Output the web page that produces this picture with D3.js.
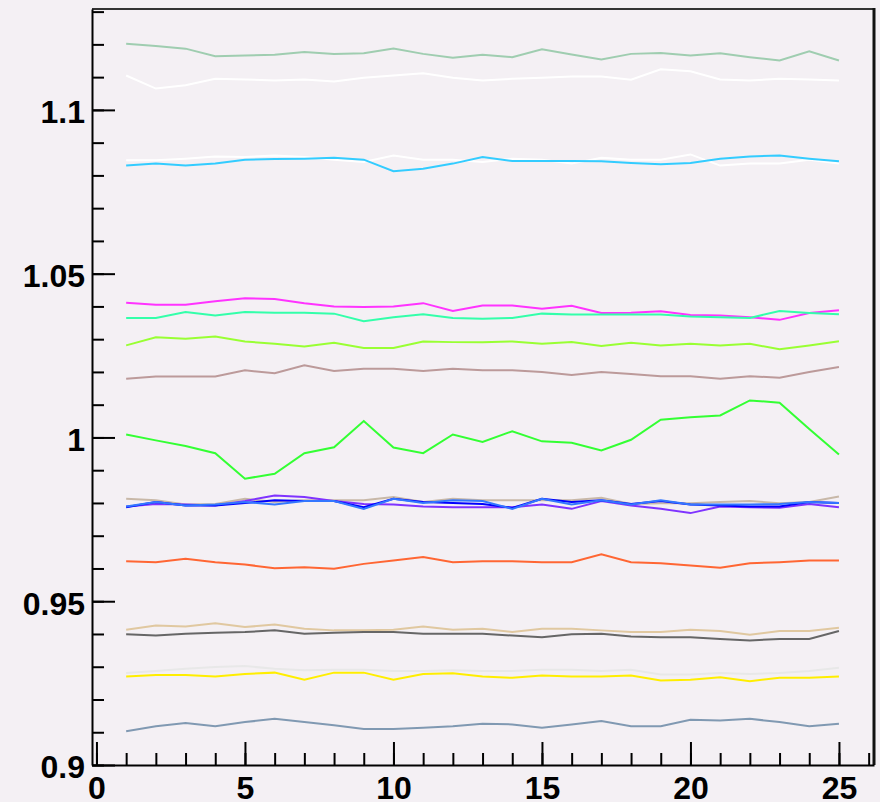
<!DOCTYPE html>
<html>
<head>
<meta charset="utf-8">
<script src="https://cdn.jsdelivr.net/npm/d3@7"></script>
<style>
  html, body { margin: 0; padding: 0; background: #f4f0f4; }
  svg { display: block; }
  .tick text { font-family: "Liberation Sans", Arial, sans-serif; font-weight: bold; font-size: 32px; fill: #000; }
</style>
</head>
<body>
<svg id="chart" width="880" height="802"></svg>
<script>
// Run index 1..25
const runs = d3.range(1, 26);

// Tick labels
const yTickValues = [0.9, 0.95, 1, 1.05, 1.1];
const yTickLabels = ["0.9", "0.95", "1", "1.05", "1.1"];
const xTickValues = [0, 5, 10, 15, 20, 25];
const xTickLabels = ["0", "5", "10", "15", "20", "25"];

// One array of ratios per channel
const sTopGreen = [1.1202,1.1195,1.1187,1.1164,1.1166,1.1168,1.1177,1.1171,1.1173,1.1187,1.1171,1.1159,1.1168,1.1161,1.1185,1.1169,1.1154,1.1171,1.1174,1.1166,1.1173,1.1161,1.1151,1.1179,1.1151];
const sWhiteA   = [1.1105,1.1065,1.1075,1.1095,1.1093,1.1090,1.1093,1.1087,1.1098,1.1105,1.1112,1.1098,1.1090,1.1095,1.1098,1.1102,1.1102,1.1092,1.1124,1.1118,1.1093,1.1090,1.1095,1.1093,1.1090];
const sWhiteB   = [1.0846,1.0846,1.0851,1.0858,1.0856,1.0861,1.0856,1.0848,1.0841,1.0861,1.0848,1.0848,1.0841,1.0851,1.0848,1.0836,1.0854,1.0848,1.0848,1.0864,1.0830,1.0836,1.0836,1.0848,1.0836];
const sCyan     = [1.0830,1.0836,1.0830,1.0836,1.0848,1.0850,1.0851,1.0854,1.0848,1.0813,1.0820,1.0836,1.0856,1.0844,1.0844,1.0844,1.0843,1.0838,1.0834,1.0838,1.0851,1.0858,1.0861,1.0851,1.0843];
const sMagenta  = [1.0411,1.0405,1.0405,1.0416,1.0425,1.0423,1.0410,1.0400,1.0398,1.0400,1.0410,1.0386,1.0403,1.0403,1.0393,1.0402,1.0380,1.0381,1.0385,1.0374,1.0372,1.0367,1.0359,1.0380,1.0388];
const sAqua     = [1.0365,1.0365,1.0383,1.0372,1.0383,1.0381,1.0381,1.0378,1.0355,1.0367,1.0376,1.0365,1.0362,1.0365,1.0378,1.0375,1.0375,1.0375,1.0375,1.0369,1.0367,1.0365,1.0386,1.0380,1.0376];
const sLime     = [1.0281,1.0306,1.0301,1.0308,1.0293,1.0286,1.0278,1.0289,1.0273,1.0273,1.0293,1.0291,1.0291,1.0293,1.0286,1.0291,1.0279,1.0289,1.0281,1.0286,1.0281,1.0286,1.0269,1.0281,1.0294];
const sRose     = [1.0179,1.0186,1.0186,1.0186,1.0205,1.0196,1.0220,1.0203,1.0210,1.0210,1.0203,1.0210,1.0205,1.0205,1.0200,1.0191,1.0200,1.0194,1.0187,1.0187,1.0179,1.0187,1.0182,1.0200,1.0215];
const sGreen    = [1.0009,0.9991,0.9974,0.9952,0.9874,0.9889,0.9952,0.9970,1.0050,0.9969,0.9952,1.0009,0.9986,1.0019,0.9988,0.9984,0.9960,0.9993,1.0054,1.0062,1.0067,1.0113,1.0106,1.0026,0.9948];
const sTaupe    = [0.9813,0.9808,0.9795,0.9797,0.9813,0.9803,0.9808,0.9808,0.9808,0.9818,0.9803,0.9813,0.9808,0.9808,0.9808,0.9808,0.9816,0.9797,0.9799,0.9799,0.9803,0.9806,0.9799,0.9803,0.9820];
const sPurple   = [0.9789,0.9797,0.9795,0.9792,0.9806,0.9823,0.9818,0.9806,0.9797,0.9795,0.9789,0.9787,0.9787,0.9787,0.9795,0.9782,0.9806,0.9792,0.9782,0.9769,0.9789,0.9787,0.9785,0.9797,0.9787];
const sBlue     = [0.9787,0.9803,0.9792,0.9792,0.9800,0.9808,0.9806,0.9806,0.9787,0.9813,0.9803,0.9800,0.9797,0.9785,0.9813,0.9803,0.9808,0.9797,0.9806,0.9795,0.9792,0.9789,0.9789,0.9803,0.9800];
const sAzure    = [0.9789,0.9803,0.9792,0.9795,0.9803,0.9795,0.9806,0.9806,0.9782,0.9813,0.9800,0.9808,0.9806,0.9782,0.9813,0.9795,0.9808,0.9795,0.9808,0.9795,0.9795,0.9795,0.9797,0.9803,0.9800];
const sOrange   = [0.9622,0.9619,0.9630,0.9619,0.9612,0.9601,0.9604,0.9599,0.9614,0.9624,0.9635,0.9619,0.9622,0.9622,0.9619,0.9619,0.9643,0.9619,0.9616,0.9609,0.9602,0.9616,0.9619,0.9624,0.9624];
const sTan      = [0.9413,0.9426,0.9423,0.9433,0.9421,0.9429,0.9416,0.9411,0.9411,0.9413,0.9423,0.9413,0.9416,0.9406,0.9416,0.9416,0.9411,0.9406,0.9406,0.9413,0.9409,0.9398,0.9409,0.9409,0.9419];
const sGray     = [0.9399,0.9395,0.9401,0.9404,0.9406,0.9411,0.9401,0.9404,0.9406,0.9406,0.9401,0.9401,0.9401,0.9395,0.9390,0.9399,0.9401,0.9392,0.9390,0.9390,0.9385,0.9380,0.9385,0.9385,0.9409];
const sSilver   = [0.9281,0.9287,0.9294,0.9299,0.9302,0.9294,0.9289,0.9291,0.9291,0.9287,0.9287,0.9289,0.9287,0.9287,0.9291,0.9291,0.9287,0.9291,0.9276,0.9276,0.9281,0.9278,0.9281,0.9287,0.9297];
const sYellow   = [0.9270,0.9275,0.9275,0.9270,0.9278,0.9282,0.9260,0.9282,0.9282,0.9260,0.9278,0.9280,0.9270,0.9266,0.9273,0.9270,0.9270,0.9273,0.9258,0.9260,0.9268,0.9256,0.9266,0.9266,0.9270];
const sSlate    = [0.9103,0.9118,0.9128,0.9118,0.9131,0.9141,0.9131,0.9121,0.9110,0.9110,0.9114,0.9118,0.9126,0.9124,0.9114,0.9124,0.9134,0.9118,0.9118,0.9138,0.9136,0.9141,0.9131,0.9118,0.9126];

const series = [
  { values: sTopGreen, color: "#9fcdb0" },
  { values: sWhiteA,   color: "#ffffff" },
  { values: sWhiteB,   color: "#ffffff" },
  { values: sCyan,     color: "#33ccff" },
  { values: sMagenta,  color: "#ff33ff" },
  { values: sAqua,     color: "#33ffaa" },
  { values: sLime,     color: "#99ff33" },
  { values: sRose,     color: "#bc9a9a" },
  { values: sGreen,    color: "#33ff33" },
  { values: sTaupe,    color: "#c8b8a8" },
  { values: sPurple,   color: "#7f33ff" },
  { values: sBlue,     color: "#0000ff" },
  { values: sAzure,    color: "#3377ff" },
  { values: sOrange,   color: "#ff6633" },
  { values: sTan,      color: "#e0c8a0" },
  { values: sGray,     color: "#666666" },
  { values: sSilver,   color: "#e8e8e8" },
  { values: sYellow,   color: "#ffee00" },
  { values: sSlate,    color: "#8099b2" }
];

const frame = { left: 92, right: 874, top: 9, bottom: 765 };

const x = d3.scaleLinear().domain([-0.15, 26.18]).range([frame.left, frame.right]);
const y = d3.scaleLinear().domain([0.9, 1.1308]).range([frame.bottom, frame.top]);

const svg = d3.select("#chart");

// plot area background
svg.append("rect")
  .attr("x", frame.left).attr("y", frame.top)
  .attr("width", frame.right - frame.left).attr("height", frame.bottom - frame.top)
  .attr("fill", "#f4f0f4");

// data lines
const line = d3.line()
  .x((d, i) => x(runs[i]))
  .y(d => y(d));

svg.append("g")
  .selectAll("path")
  .data(series)
  .join("path")
  .attr("d", d => line(d.values))
  .attr("fill", "none")
  .attr("stroke", d => d.color)
  .attr("stroke-width", 2);

// frame top and right edges
svg.append("line")
  .attr("x1", frame.left).attr("x2", frame.right)
  .attr("y1", frame.top).attr("y2", frame.top)
  .attr("stroke", "#333").attr("stroke-width", 2);
svg.append("line")
  .attr("x1", frame.right).attr("x2", frame.right)
  .attr("y1", frame.top - 1).attr("y2", frame.bottom)
  .attr("stroke", "#111").attr("stroke-width", 3);

// y axis: minor ticks every 0.01, major ticks with labels every 0.05
const yMinor = d3.range(90, 114).map(v => v / 100);
svg.append("g")
  .attr("transform", `translate(${frame.left},0)`)
  .call(d3.axisLeft(y).tickValues(yMinor).tickSize(-12).tickSizeOuter(0).tickFormat(""))
  .call(g => g.select(".domain").remove())
  .selectAll("line").attr("stroke", "#000").attr("stroke-width", 2);

const yAxis = svg.append("g")
  .attr("transform", `translate(${frame.left},0)`)
  .call(d3.axisLeft(y)
    .tickValues(yTickValues)
    .tickSize(-23).tickSizeOuter(0).tickPadding(7)
    .tickFormat((d, i) => yTickLabels[i]));
yAxis.select(".domain").attr("stroke", "#000").attr("stroke-width", 2);
yAxis.selectAll(".tick line").attr("stroke", "#000").attr("stroke-width", 2);
yAxis.selectAll(".tick text").attr("dy", "0.4em");

// x axis: minor ticks every run, major ticks with labels every 5
const xMinor = d3.range(0, 27);
svg.append("g")
  .attr("transform", `translate(0,${frame.bottom})`)
  .call(d3.axisBottom(x).tickValues(xMinor).tickSize(-12).tickSizeOuter(0).tickFormat(""))
  .call(g => g.select(".domain").remove())
  .selectAll("line").attr("stroke", "#000").attr("stroke-width", 2);

const xAxis = svg.append("g")
  .attr("transform", `translate(0,${frame.bottom})`)
  .call(d3.axisBottom(x)
    .tickValues(xTickValues)
    .tickSize(-23).tickSizeOuter(0).tickPadding(11)
    .tickFormat((d, i) => xTickLabels[i]));
xAxis.select(".domain").attr("stroke", "#000").attr("stroke-width", 2);
xAxis.selectAll(".tick line").attr("stroke", "#000").attr("stroke-width", 2);
</script>
</body>
</html>
